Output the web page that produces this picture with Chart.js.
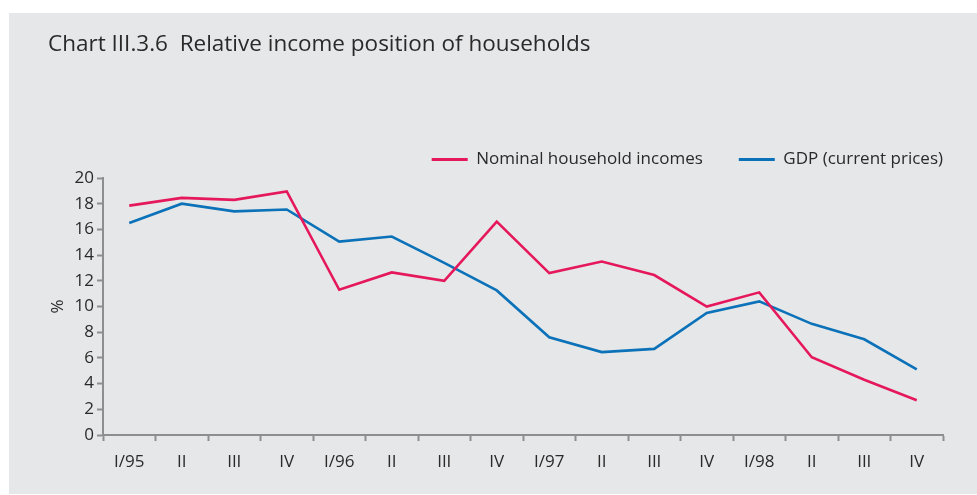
<!DOCTYPE html>
<html>
<head>
<meta charset="utf-8">
<script src="https://cdn.jsdelivr.net/npm/chart.js@4.4.0/dist/chart.umd.min.js"></script>
<style>
  html, body { margin: 0; padding: 0; background: #ffffff; }
  #panel {
    position: absolute; left: 9px; top: 13px;
    width: 968px; height: 481px;
    background: #e6e7e8;
  }
</style>
</head>
<body>
<div id="panel"><canvas id="myChart" width="968" height="481"></canvas></div>
<script>
const quarters = ["I/95", "II", "III", "IV", "I/96", "II", "III", "IV",
                  "I/97", "II", "III", "IV", "I/98", "II", "III", "IV"];
const householdIncomes = [17.85, 18.45, 18.3, 18.95, 11.3, 12.65, 12.0, 16.6,
                          12.6, 13.5, 12.45, 10.0, 11.1, 6.05, 4.3, 2.7];
const gdpCurrent = [16.5, 18.0, 17.4, 17.55, 15.05, 15.45, 13.4, 11.25,
                    7.6, 6.45, 6.7, 9.5, 10.4, 8.65, 7.45, 5.1];
const yTicks = [0, 2, 4, 6, 8, 10, 12, 14, 16, 18, 20];

const fontName = "'Open Sans', 'DejaVu Sans', sans-serif";
const textColor = "#2b2a2a";
const axisColor = "#8d8e90";
const legendGap = 36;

const info = {
    labels: quarters,
    datasets: [
        {
            label: "Nominal household incomes",
            data: householdIncomes,
            borderColor: "#e5185c",
            backgroundColor: "#e5185c",
            borderWidth: 2.6,
            pointRadius: 0,
            tension: 0
        },
        {
            label: "GDP (current prices)",
            data: gdpCurrent,
            borderColor: "#0b72b9",
            backgroundColor: "#0b72b9",
            borderWidth: 2.6,
            pointRadius: 0,
            tension: 0
        }
    ]
};

// the legend adds its item padding after the last entry too; push it back to the right edge
const legendShift = {
    id: "legendShift",
    afterLayout(chart) {
        chart.legend.left += legendGap;
        chart.legend.right += legendGap;
    }
};

const options = {
    responsive: false,
    animation: false,
    layout: {
        padding: { left: 39, right: 34, top: 8, bottom: 14 }
    },
    scales: {
        x: {
            offset: true,
            grid: {
                display: true,
                offset: true,
                drawOnChartArea: false,
                drawTicks: true,
                tickLength: 6,
                tickWidth: 2,
                tickColor: axisColor
            },
            border: { display: true, color: axisColor, width: 2 },
            ticks: {
                color: textColor,
                font: { family: fontName, size: 17 },
                padding: 11,
                maxRotation: 0,
                autoSkip: false
            },
            afterFit: (scale) => { scale.height = 45; }
        },
        y: {
            min: 0,
            max: 20,
            afterBuildTicks: (scale) => {
                scale.ticks = yTicks.map((v) => ({ value: v }));
            },
            grid: {
                display: true,
                drawOnChartArea: false,
                drawTicks: true,
                tickLength: 6,
                tickWidth: 2,
                tickColor: axisColor
            },
            border: { display: true, color: axisColor, width: 2 },
            ticks: {
                color: textColor,
                font: { family: fontName, size: 17 },
                padding: 3
            },
            title: {
                display: true,
                text: "%",
                color: textColor,
                font: { family: fontName, size: 17 },
                padding: { top: 0, bottom: 0 }
            },
            afterFit: (scale) => { scale.width = 55; }
        }
    },
    plugins: {
        title: {
            display: true,
            text: "Chart III.3.6  Relative income position of households",
            align: "start",
            color: textColor,
            font: { family: fontName, size: 22.5, weight: "normal" },
            padding: { top: 10, bottom: 57 }
        },
        legend: {
            display: true,
            align: "end",
            labels: {
                boxWidth: 36,
                boxHeight: 3,
                padding: legendGap,
                color: textColor,
                font: { family: fontName, size: 17 },
                generateLabels: (chart) =>
                    Chart.defaults.plugins.legend.labels.generateLabels(chart)
                        .map((item) => ({ ...item, lineWidth: 0 }))
            }
        },
        tooltip: { enabled: false }
    }
};

const config = {
    type: "line",
    data: info,
    options,
    plugins: [legendShift]
};

const myChart = new Chart(document.getElementById("myChart"), config);
</script>
</body>
</html>
